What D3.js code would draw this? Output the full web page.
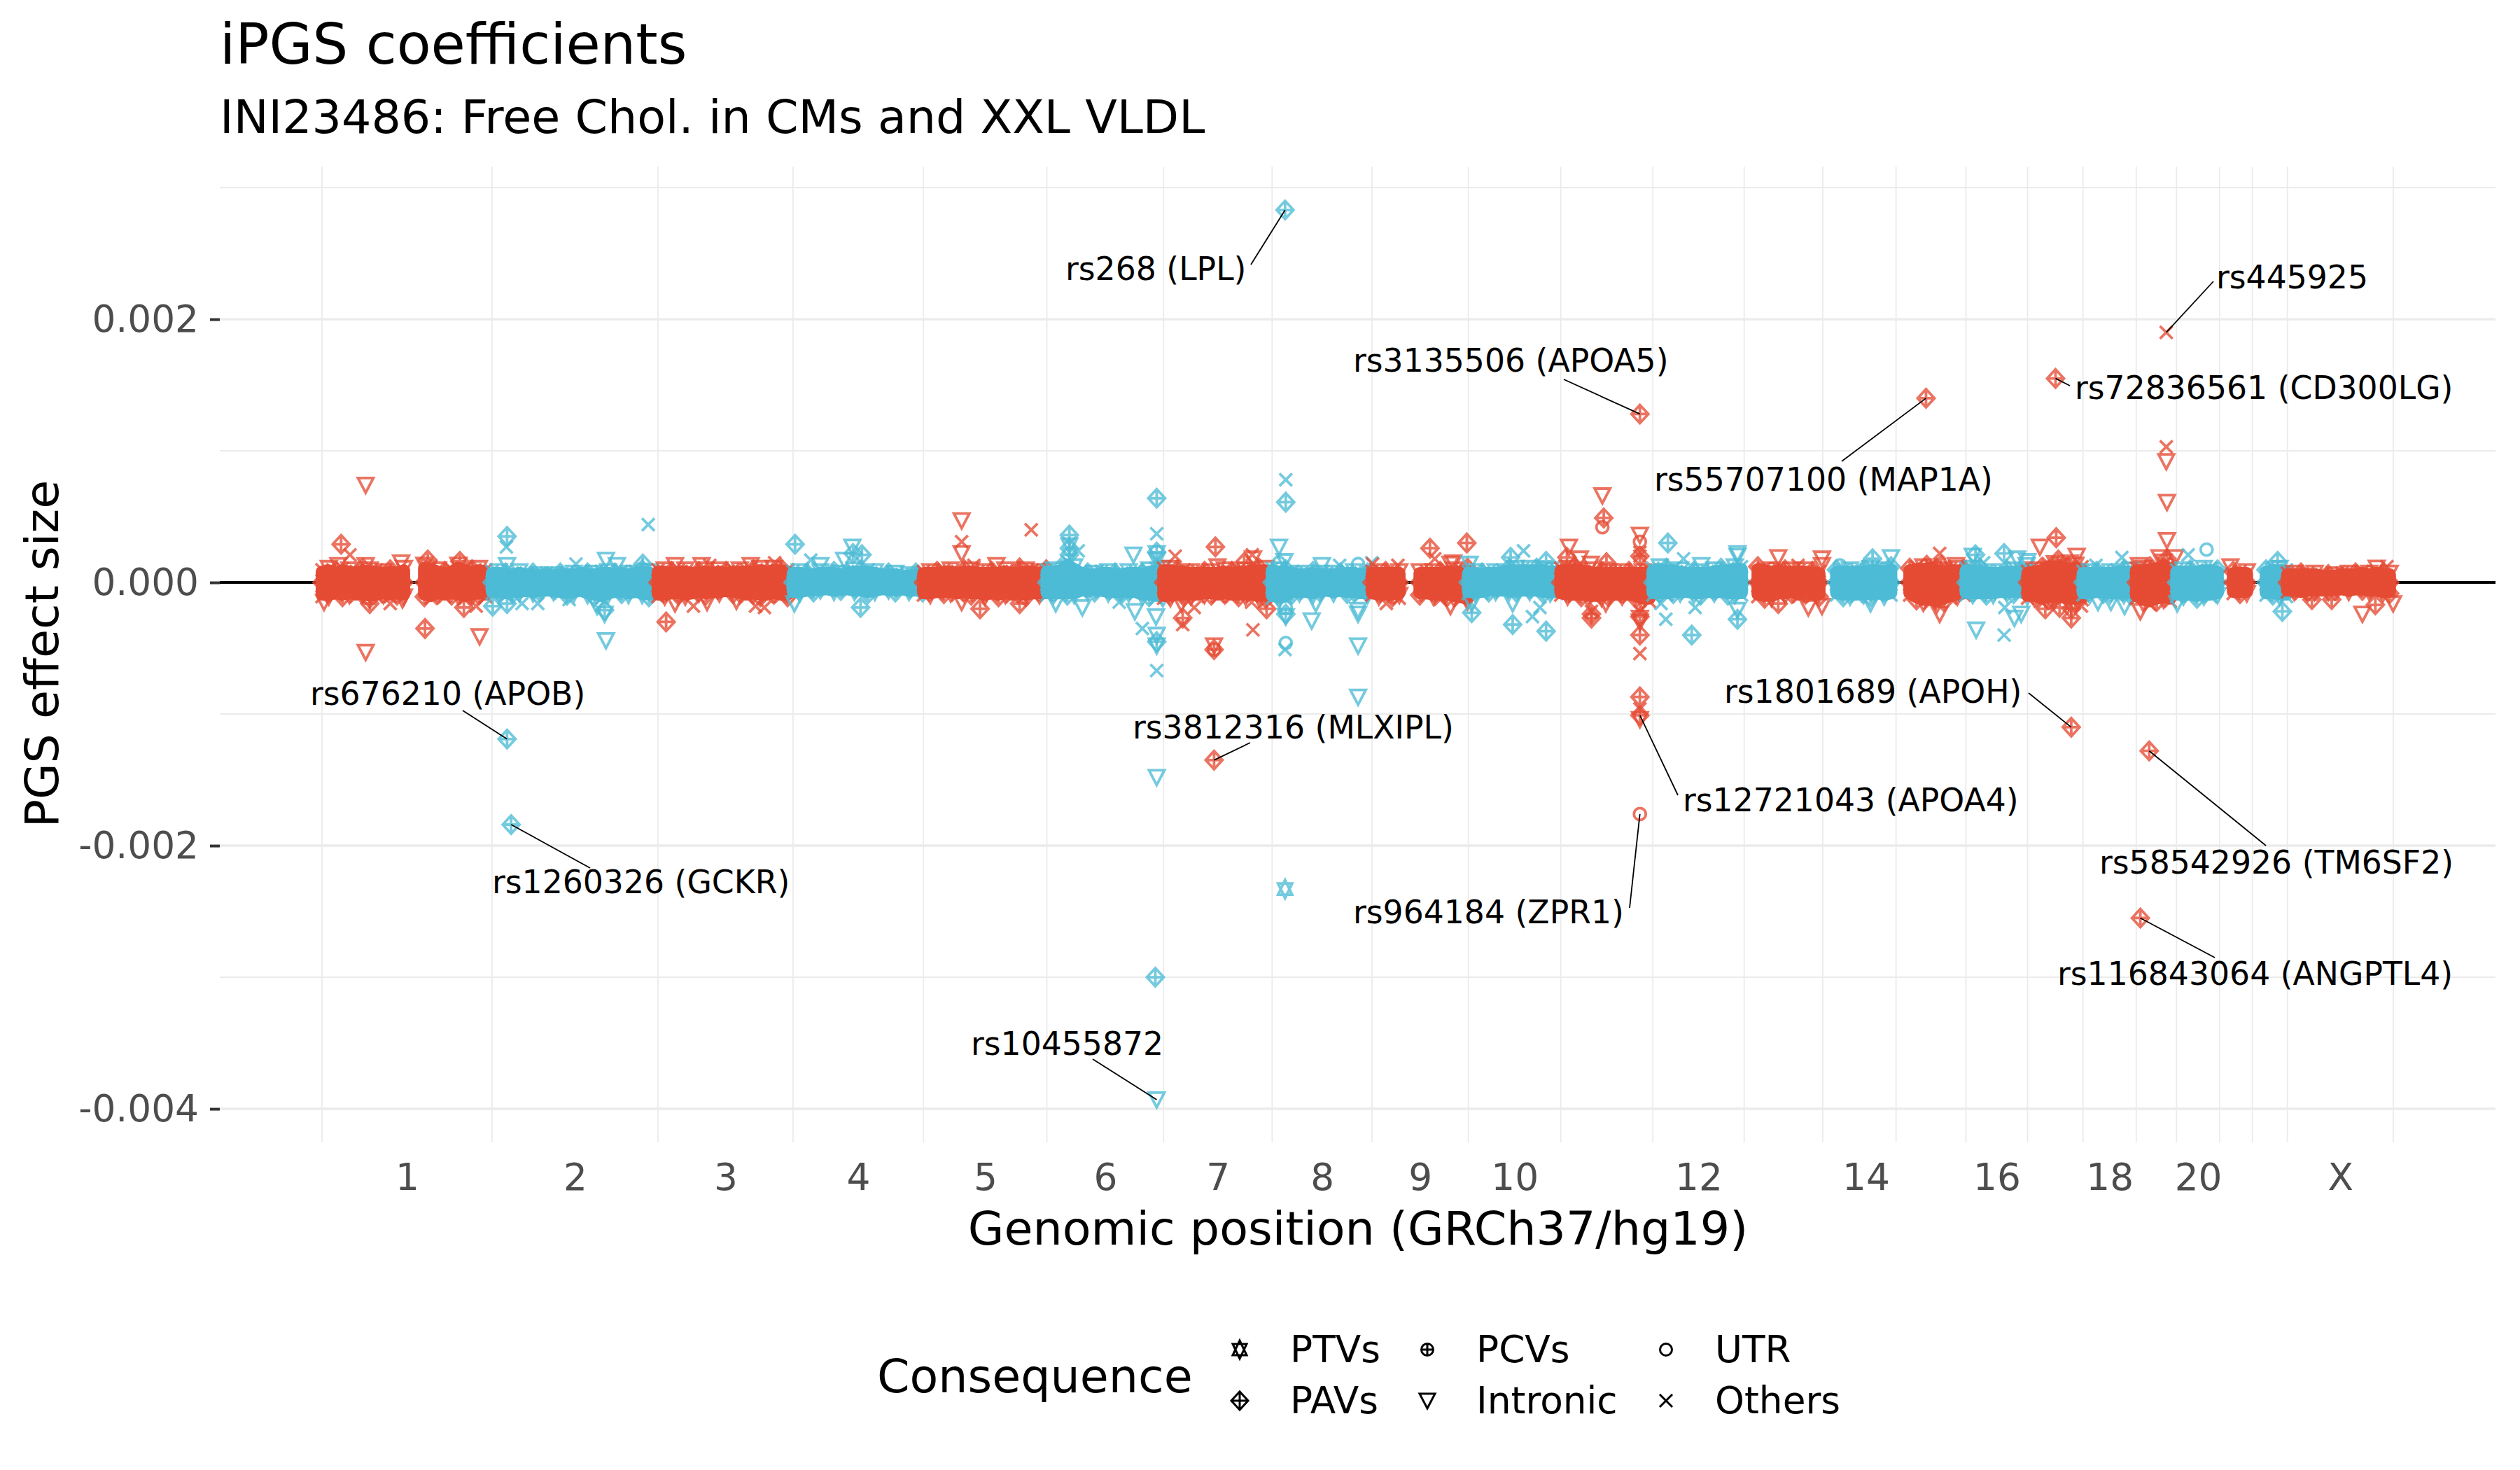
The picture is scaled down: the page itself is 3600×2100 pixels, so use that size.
<!DOCTYPE html>
<html><head><meta charset="utf-8">
<script src="https://d3js.org/d3.v7.min.js"></script>
<style>html,body{margin:0;padding:0;background:#fff}svg{display:block}text{font-family:"DejaVu Sans",sans-serif}</style>
</head><body><svg id="c" width="3600" height="2100"></svg>
<script>
// ---------- chromosomes ----------
const chromNames=["1","2","3","4","5","6","7","8","9","10","11","12","13","14","15","16","17","18","19","20","21","22","X"];
const chromLengths=[249.25,243.2,198,191.15,180.9,171.1,159.1,146.4,141.2,135.5,135,133.85,115.2,107.35,102.5,90.35,81.2,78.1,59.1,63,48.1,51.3,155.3];
// first typed position on each chromosome (the acrocentric ones begin late), used to centre the chromosome label
const chromFirstMb=[0,0,0,0,0,0,0,0,0,0,0,0,19,19,20,0,0,0,0,0,15,16,0];
const shownChromLabels=["1","2","3","4","5","6","7","8","9","10","12","14","16","18","20","X"];
const yMajor=[0.002,0,-0.002,-0.004];
const yMinor=[0.003,0.001,-0.001,-0.003];
// ---------- dense band envelope, effect x 1e-5, read every 10 Mb per chromosome ----------
const top1=[8,9,7,9,8,7,9,8,8,7,8,7,9,null,null,11,10,8,7,8,11,9,8,9,8];
const bot1=[-9,-9,-8,-9,-8,-9,-8,-10,-9,-8,-9,-8,-9,null,null,-9,-10,-8,-9,-8,-9,-10,-9,-8,-9];
const top2=[7,7,6,6,7,6,6,5,6,5,6,6,6,7,6,6,7,7,6,7,6,7,8,7,6];
const bot2=[-7,-7,-8,-7,-7,-6,-7,-6,-6,-6,-7,-8,-7,-6,-8,-9,-10,-8,-7,-7,-8,-7,-8,-9,-8];
const top3=[8,8,7,8,8,7,7,8,7,8,7,8,8,8,8,9,8,9,9,8];
const bot3=[-9,-9,-8,-8,-9,-8,-7,-8,-7,-7,-6,-7,-8,-9,-8,-9,-9,-8,-9,-9];
const top4=[7,7,6,6,7,7,7,6,7,8,8,8,7,6,6,6,5,5,6,6];
const bot4=[-7,-7,-6,-6,-5,-5,-6,-5,-5,-6,-6,-7,-6,-5,-5,-6,-5,-6,-6,-6];
const top5=[7,7,7,8,8,7,8,8,7,7,7,7,8,7,7,8,8,7,8];
const bot5=[-8,-8,-7,-7,-7,-8,-7,-8,-8,-9,-8,-9,-8,-9,-8,-9,-8,-8,-8];
const top6=[8,8,9,13,10,7,6,6,7,7,6,6,7,7,6,8,9,9];
const bot6=[-8,-8,-8,-8,-8,-6,-6,-6,-6,-7,-7,-7,-7,-7,-9,-9,-10,-10];
const top7=[9,9,8,8,7,7,7,7,7,8,7,8,8,9,9,9];
const bot7=[-10,-10,-9,-9,-9,-9,-8,-8,-9,-8,-9,-9,-9,-9,-10,-10];
const top8=[9,8,8,7,6,6,7,6,6,6,6,7,7,6,6];
const bot8=[-10,-11,-10,-7,-7,-7,-8,-6,-6,-7,-6,-7,-7,-8,-8];
const top9=[7,7,7,7,7,null,null,7,7,7,7,8,8,8,9];
const bot9=[-8,-9,-9,-9,-8,null,null,-8,-8,-9,-9,-9,-10,-11,-12];
const top10=[7,7,6,7,7,8,9,9,9,9,9,9,8,8];
const bot10=[-7,-7,-7,-6,-6,-6,-6,-6,-6,-6,-6,-7,-7,-7];
const top11=[9,9,10,9,8,7,7,7,7,7,7,7,7,8];
const bot11=[-8,-9,-9,-9,-10,-10,-10,-9,-9,-9,-9,-10,-12,-12];
const top12=[9,10,9,9,8,7,7,7,7,8,9,9,10,10];
const bot12=[-8,-8,-8,-7,-7,-7,-8,-8,-7,-7,-7,-8,-8,-8];
const top13=[null,null,10,9,8,9,8,8,8,8,7,7];
const bot13=[null,null,-9,-10,-10,-8,-8,-7,-9,-8,-9,-9];
const top14=[null,null,8,8,8,8,8,9,9,8,10];
const bot14=[null,null,-8,-9,-9,-9,-8,-9,-8,-9,-8];
const top15=[null,null,9,10,10,11,9,8,9,9,8];
const bot15=[null,null,-8,-11,-13,-13,-14,-12,-10,-9,-8];
const top16=[9,9,9,7,7,7,8,8,8,7];
const bot16=[-8,-8,-8,-8,-8,-7,-7,-7,-7,-9];
const top17=[7,8,9,12,12,12,10,11,10];
const bot17=[-10,-10,-12,-11,-11,-11,-12,-12,-11];
const top18=[7,7,7,7,7,8,8,8];
const bot18=[-8,-8,-7,-7,-8,-8,-8,-8];
const top19=[9,9,10,10,13,10];
const bot19=[-10,-13,-14,-12,-11,-12];
const top20=[8,8,8,8,9,9,8];
const bot20=[-9,-9,-9,-10,-9,-9,-8];
const top21=[null,null,7,7,7];
const bot21=[null,null,-7,-7,-7];
const top22=[null,null,8,9,9,8];
const bot22=[null,null,-8,-8,-9,-9];
const topX=[6,6,6,6,6,5,5,5,6,6,6,7,6,7,6,6];
const botX=[-6,-6,-7,-6,-6,-6,-6,-5,-5,-6,-5,-5,-6,-6,-7,-7];
const bandTops=[top1,top2,top3,top4,top5,top6,top7,top8,top9,top10,top11,top12,top13,top14,top15,top16,top17,top18,top19,top20,top21,top22,topX];
const bandBots=[bot1,bot2,bot3,bot4,bot5,bot6,bot7,bot8,bot9,bot10,bot11,bot12,bot13,bot14,bot15,bot16,bot17,bot18,bot19,bot20,bot21,bot22,botX];
const bandShapes=["x","tri","dia","x","tri","x","dia","tri"];
// ---------- individually read points: [chromosome, Mb, effect x 1e-5] ----------
const ptvs=[[8,19,-233]];
const pcvs=[];
const pavs=[[1,28,29],[1,151,-35],[1,155,17],[1,202,16],[1,70,-16],[1,208,-19],[2,22,35],[2,165,-21],[2,1,-18],[2,22,-16],[2,221,14],[4,3,29],[4,88,22],[4,101,21],[4,99,-19],[3,12,-30],[5,83,-20],[5,141,-16],[5,141,11],[6,33,36],[6,33,26],[6,33,21],[6,161,64],[6,161,23],[6,161,-45],[7,76,27],[7,118,15],[7,28,-27],[7,74,-51],[7,151,-20],[8,20,61],[8,20,-24],[9,85,26],[9,139,30],[10,62,19],[10,114,16],[10,5,-23],[10,65,-32],[10,114,-37],[11,9,19],[11,63,49],[11,67,15],[11,45,-24],[11,45,-27],[11,116,20],[11,116,-26],[11,116,-40],[11,116,-87],[12,22,30],[12,57,-40],[12,124,-28],[13,50,-16],[14,73,18],[15,45,13],[15,66,13],[16,14,21],[16,56,22],[17,42,34],[17,45,17],[17,26,-20],[17,64,-27],[17,47,-19],[17,64,-20],[19,45,18],[22,37,16],[22,44,-22],[23,65,-13],[23,36,-13],[23,129,-17],[8,19,283],[11,116,128],[15,44,140],[17,41,155],[2,22,-119],[2,28,-184],[7,74,-135],[11,116,-101],[17,64,-110],[19,19,-128],[19,6,-255],[6,159,-300]];
const intronic=[[1,64,74],[1,64,-53],[1,231,-41],[1,116,15],[1,24,13],[1,64,13],[1,3,-15],[1,118,-13],[2,167,-44],[2,165,-24],[2,154,-18],[2,167,17],[2,183,13],[2,22,13],[5,56,47],[5,56,22],[4,75,17],[4,87,27],[4,40,13],[3,25,13],[3,64,13],[3,136,13],[3,25,-16],[3,72,-15],[3,115,-14],[5,56,-15],[5,107,13],[4,2,-16],[6,33,28],[6,127,21],[6,161,22],[6,161,17],[6,52,-19],[6,13,-16],[6,129,-22],[6,160,-26],[6,161,-40],[6,161,-48],[6,161,-148],[7,79,12],[7,131,18],[7,26,-16],[7,74,-48],[8,10,27],[8,18,16],[8,73,13],[8,20,-26],[8,58,-29],[8,126,-24],[8,126,-21],[8,126,-48],[8,126,-87],[8,64,-16],[9,115,14],[9,115,-18],[9,119,15],[10,2,14],[10,65,-16],[10,5,-16],[11,12,27],[11,28,18],[11,44,14],[11,61,66],[11,66,-16],[11,116,36],[11,116,-27],[11,116,-30],[11,116,-104],[12,71,13],[12,124,20],[12,124,22],[12,124,-21],[13,50,19],[13,114,18],[13,114,13],[13,94,-19],[13,114,-18],[14,100,19],[14,70,-16],[15,88,13],[15,64,-24],[16,10,20],[16,75,18],[16,90,16],[16,15,-36],[16,71,-27],[16,81,-24],[17,18,27],[17,72,20],[17,62,15],[16,89,13],[18,61,-18],[18,41,-15],[18,22,-15],[19,45,61],[19,45,32],[19,44,92],[19,34,19],[19,57,19],[19,4,13],[19,6,-22],[20,1,-16],[21,16,12],[23,131,11],[23,110,-24],[23,155,-16],[6,161,-393]];
const utr=[[7,74,-51],[8,10,15],[8,126,14],[8,20,-19],[8,20,-46],[11,61,42],[11,116,31],[14,25,13],[20,44,25],[11,116,-176]];
const others=[[1,41,21],[1,100,-16],[1,226,-18],[2,21,27],[2,229,44],[2,123,14],[2,67,-16],[2,113,-13],[2,44,-16],[4,26,17],[5,158,40],[5,56,31],[3,76,13],[3,171,15],[3,52,-18],[3,143,-18],[3,156,-19],[5,74,13],[6,46,24],[6,161,37],[6,161,-67],[6,140,-35],[6,106,-15],[7,17,20],[7,130,21],[7,28,-32],[7,45,-19],[7,131,-36],[7,129,-15],[8,20,78],[8,99,13],[8,146,15],[8,19,-51],[9,38,13],[9,1,14],[9,21,-16],[9,40,-12],[9,92,18],[9,100,-13],[10,81,24],[10,94,-26],[10,105,-19],[11,116,23],[11,116,20],[11,116,-22],[11,116,-54],[11,116,-96],[11,45,-22],[12,45,18],[12,19,-28],[12,62,-19],[12,12,-16],[13,79,13],[15,64,22],[16,26,15],[16,56,-40],[16,57,-19],[18,57,19],[18,19,13],[17,79,-18],[19,44,190],[19,44,103],[20,17,21],[23,146,12]];
// ---------- labelled variants: [name, chromosome, Mb, effect x 1e-5] ----------
const labelledVariants=[
 ["rs268 (LPL)",8,19,283],["rs3135506 (APOA5)",11,116,128],["rs55707100 (MAP1A)",15,44,140],["rs72836561 (CD300LG)",17,41,155],
 ["rs445925",19,44,190],["rs676210 (APOB)",2,22,-119],["rs1260326 (GCKR)",2,28,-184],["rs3812316 (MLXIPL)",7,74,-135],
 ["rs12721043 (APOA4)",11,116,-101],["rs964184 (ZPR1)",11,116,-176],["rs1801689 (APOH)",17,64,-110],["rs58542926 (TM6SF2)",19,19,-128],
 ["rs116843064 (ANGPTL4)",19,6,-255],["rs10455872",6,161,-393]];
// label placement on the page: [text left, text centre y, segment end x, segment end y]
const labelPlacement=[[1522,384,1787,378],[1933,515,2234,542],[2363,685,2631,659],[2964,554,2957,551],[3166,396,3162,402],[443,991,661,1015],[703,1260,843,1240],[1618,1039,1786,1061],[2404,1143,2397,1136],[1933,1303,2328,1297],[2463,988,2898,990],[2999,1232,3237,1208],[2939,1391,3164,1368],[1387,1491,1561,1513]];

// ---------- scales ----------
const cum=[0];chromLengths.forEach(l=>cum.push(cum[cum.length-1]+l));
const panel={left:314,right:3565,top:238,bottom:1632};
const x=d3.scaleLinear().domain([0,cum[23]]).range([460,3419]);
const y=d3.scaleLinear().domain([0.00316,-0.004255]).range([panel.top,panel.bottom]);
const gx=(c,mb)=>x(cum[c-1]+mb);
const ye=v=>y(v*1e-5);
const RED="#E64B35",BLUE="#4DBBD5";
const colorOf=c=>c%2?RED:BLUE;
const bandMarkerReach=1.2;

const svg=d3.select("#c");
svg.append("rect").attr("width",3600).attr("height",2100).attr("fill","#fff");

// ---------- marker paths ----------
const shapePath={
 dia(){const p=d3.path();p.moveTo(0,-13);p.lineTo(12,0);p.lineTo(0,13);p.lineTo(-12,0);p.closePath();p.moveTo(0,-13);p.lineTo(0,13);p.moveTo(-12,0);p.lineTo(12,0);return p.toString();},
 tri(){const p=d3.path();p.moveTo(-11,-10);p.lineTo(11,-10);p.lineTo(0,11);p.closePath();return p.toString();},
 x(){const p=d3.path();p.moveTo(-9,-9);p.lineTo(9,9);p.moveTo(-9,9);p.lineTo(9,-9);return p.toString();},
 circ(){const p=d3.path();p.arc(0,0,8.5,0,2*Math.PI);p.closePath();return p.toString();},
 pcv(){const p=d3.path();p.arc(0,0,8.5,0,2*Math.PI);p.closePath();p.moveTo(0,-8.5);p.lineTo(0,8.5);p.moveTo(-8.5,0);p.lineTo(8.5,0);return p.toString();},
 ptv(){const p=d3.path();p.moveTo(-10,-8);p.lineTo(10,-8);p.lineTo(0,13);p.closePath();p.moveTo(-10,8);p.lineTo(10,8);p.lineTo(0,-13);p.closePath();return p.toString();}
};

// ---------- grid ----------
const grid=svg.append("g");
const hl=(v,w)=>grid.append("line").attr("x1",panel.left).attr("x2",panel.right).attr("y1",y(v)).attr("y2",y(v)).attr("stroke","#ebebeb").attr("stroke-width",w);
yMinor.forEach(v=>hl(v,2));
yMajor.forEach(v=>hl(v,3.4));
cum.forEach(c=>grid.append("line").attr("x1",x(c)).attr("x2",x(c)).attr("y1",panel.top).attr("y2",panel.bottom).attr("stroke","#ebebeb").attr("stroke-width",1.8));
// zero line
svg.append("line").attr("x1",panel.left).attr("x2",panel.right).attr("y1",y(0)).attr("y2",y(0)).attr("stroke","#000").attr("stroke-width",4);

// ---------- points, chromosome by chromosome so later ones overlap earlier ones ----------
const consequenceSets=[[ptvs,"ptv"],[pavs,"dia"],[pcvs,"pcv"],[intronic,"tri"],[utr,"circ"],[others,"x"]];
const plot=svg.append("g");
const area=d3.area().defined(d=>d[1]!==null).x(d=>d[0]).y0(d=>ye(d[2])).y1(d=>ye(d[1]));
chromNames.forEach((name,i)=>{
  const c=i+1,col=colorOf(c),g=plot.append("g");
  const tops=bandTops[i],bots=bandBots[i];
  const rows=tops.map((t,k)=>[gx(c,k*10),t,bots[k]]);
  g.append("path").datum(rows).attr("d",area).attr("fill",col).attr("stroke",col).attr("stroke-width",18).attr("stroke-linejoin","round");
  const ptsB=[];
  rows.forEach((r,k)=>{ if(r[1]===null)return;
    ptsB.push([r[0],ye(r[1]*bandMarkerReach),bandShapes[k%8]]);
    ptsB.push([r[0],ye(r[2]*bandMarkerReach),bandShapes[(k+3)%8]]);
    ptsB.push([r[0],y(0),"dia"]);
  });
  g.selectAll("path.b").data(ptsB).join("path").attr("class","b")
    .attr("transform",d=>`translate(${d[0]},${d[1]})`).attr("d",d=>shapePath[d[2]]())
    .attr("fill","none").attr("stroke",col).attr("stroke-width",3.8).attr("stroke-opacity",.78);
  consequenceSets.forEach(([arr,shape])=>{
    g.selectAll("path."+shape).data(arr.filter(d=>d[0]===c)).join("path").attr("class",shape)
      .attr("transform",d=>`translate(${gx(d[0],d[1])},${ye(d[2])})`).attr("d",shapePath[shape]())
      .attr("fill","none").attr("stroke",col).attr("stroke-width",3.8).attr("stroke-opacity",.78);
  });
});

// ---------- axes ----------
const axL=svg.append("g").attr("transform",`translate(${panel.left},0)`)
  .call(d3.axisLeft(y).tickValues(yMajor).tickSize(14).tickPadding(16).tickFormat(v=>d3.format(".3f")(v).replace("−","-")));
axL.select(".domain").remove();
axL.selectAll(".tick line").attr("stroke","#333").attr("stroke-width",4);
axL.selectAll(".tick text").attr("fill","#4d4d4d").style("font-size","53.3px").style("font-family",'"DejaVu Sans"');
const mids=new Map(chromNames.map((n,i)=>[n,cum[i]+(chromFirstMb[i]+chromLengths[i])/2]));
const axB=svg.append("g").attr("transform",`translate(0,${panel.bottom})`)
  .call(d3.axisBottom(x).tickValues(shownChromLabels.map(n=>mids.get(n))).tickSize(0).tickPadding(30).tickFormat((v,i)=>shownChromLabels[i]));
axB.select(".domain").remove();
axB.selectAll(".tick text").attr("fill","#4d4d4d").style("font-size","53.3px").style("font-family",'"DejaVu Sans"');

// ---------- titles ----------
const T=(s,xx,yy,size,anchor="start",fill="#000")=>svg.append("text").attr("x",xx).attr("y",yy).attr("font-size",size).attr("text-anchor",anchor).attr("fill",fill).text(s);
T("iPGS coefficients",314,91,80);
T("INI23486: Free Chol. in CMs and XXL VLDL",314,190,66.67);
T("Genomic position (GRCh37/hg19)",1940,1778,66.67,"middle");
svg.append("text").attr("transform","translate(83,934) rotate(-90)").attr("text-anchor","middle").attr("font-size",66.67).text("PGS effect size");

// ---------- annotations ----------
const ann=svg.append("g");
labelledVariants.forEach((v,i)=>{
  const [lx,ly,sx,sy]=labelPlacement[i];
  ann.append("line").attr("x1",gx(v[1],v[2])).attr("y1",ye(v[3])).attr("x2",sx).attr("y2",sy).attr("stroke","#000").attr("stroke-width",1.8);
  ann.append("text").attr("x",lx).attr("y",ly).attr("dominant-baseline","central").attr("font-size",45.7).text(v[0]);
});

// ---------- legend ----------
const legendEntries=[["PTVs","ptv"],["PAVs","dia"],["PCVs","pcv"],["Intronic","tri"],["UTR","circ"],["Others","x"]];
const leg=svg.append("g");
T("Consequence",1253,1989,66.67);
const colKey=[1771,2039,2380],colText=[1843,2109,2450],rowY=[1928,2001];
legendEntries.forEach(([lab,s],i)=>{
  const cI=Math.floor(i/2),rI=i%2;
  leg.append("path").attr("transform",`translate(${colKey[cI]},${rowY[rI]})`).attr("d",shapePath[s]()).attr("fill","none").attr("stroke","#000").attr("stroke-width",3);
  leg.append("text").attr("x",colText[cI]).attr("y",rowY[rI]).attr("dominant-baseline","central").attr("font-size",53.3).text(lab);
});
</script></body></html>
